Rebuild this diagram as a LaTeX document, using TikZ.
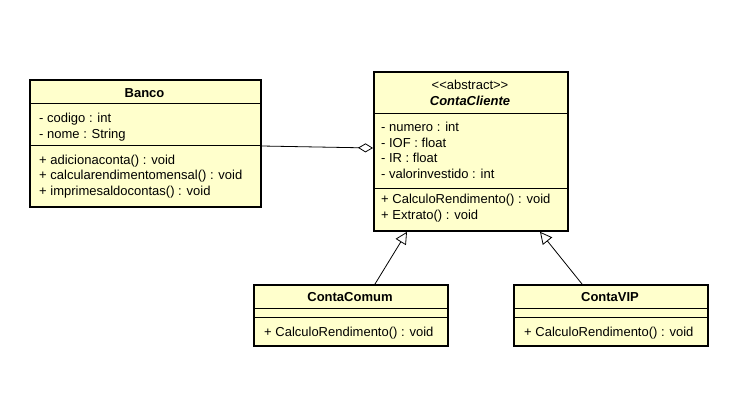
\documentclass[tikz,border=0pt]{standalone}
\usepackage{fontspec}
\newfontfamily\umlfont{Liberation Sans}
\usetikzlibrary{arrows.meta}
\definecolor{umlfill}{RGB}{255,255,204}
\begin{document}
\begin{tikzpicture}[x=1pt,y=-1pt,
  cls/.style={draw=black, line width=1.8pt, fill=umlfill, inner sep=0pt, anchor=north west},
  sepline/.style={line width=0.9pt},
  txt/.style={anchor=base west, inner sep=0pt, font=\umlfont\fontsize{13}{15}\selectfont},
  ttl/.style={anchor=base, inner sep=0pt, font=\umlfont\fontsize{13}{15}\selectfont\bfseries},
  ttlit/.style={anchor=base, inner sep=0pt, font=\umlfont\fontsize{13}{15}\selectfont\bfseries\itshape},
  ster/.style={anchor=base, inner sep=0pt, font=\umlfont\fontsize{13}{15}\selectfont},
  aggr/.style={line width=0.8pt, -{Diamond[open, fill=white, length=15pt, width=9pt, line width=0.8pt]}},
  gen/.style={line width=0.8pt, -{Triangle[open, fill=white, length=12pt, width=12pt, line width=0.8pt]}}]
\fill[white] (0,0) rectangle (736,413);
\path[use as bounding box] (0,0) rectangle (736,413);

% Banco
\node[cls, minimum width=231pt, minimum height=127pt] (banco) at (29,79) {};
\draw[sepline] (banco.west |- 0,103) -- (banco.east |- 0,103);
\draw[sepline] (banco.west |- 0,145) -- (banco.east |- 0,145);
\node[ttl] (bancoT) at (144.5,97.5) {Banco};
\node[txt] (b1) at (39,122.5) {- codigo : int};
\node[txt] (b2) at (39,138) {- nome : String};
\node[txt] (b3) at (39,164) {+ adicionaconta() : void};
\node[txt] (b4) at (39,179.5) {+ calcularendimentomensal() : void};
\node[txt] (b5) at (39,195) {+ imprimesaldocontas() : void};

% ContaCliente
\node[cls, minimum width=194pt, minimum height=159pt] (cliente) at (373,71) {};
\draw[sepline] (cliente.west |- 0,113) -- (cliente.east |- 0,113);
\draw[sepline] (cliente.west |- 0,188) -- (cliente.east |- 0,188);
\node[ster] (cS) at (470,89.5) {<<abstract>>};
\node[ttlit] (cT) at (470,105.5) {ContaCliente};
\node[txt] (c1) at (381,131.5) {- numero : int};
\node[txt] (c2) at (381,147) {- IOF : float};
\node[txt] (c3) at (381,162.5) {- IR : float};
\node[txt] (c4) at (381,178) {- valorinvestido : int};
\node[txt] (c5) at (381,203.5) {+ CalculoRendimento() : void};
\node[txt] (c6) at (381,219) {+ Extrato() : void};

% ContaComum
\node[cls, minimum width=194pt, minimum height=61pt] (comum) at (253,284) {};
\draw[sepline] (comum.west |- 0,308) -- (comum.east |- 0,308);
\draw[sepline] (comum.west |- 0,317) -- (comum.east |- 0,317);
\node[ttl] (mT) at (350,301.5) {ContaComum};
\node[txt] (m1) at (264,336.5) {+ CalculoRendimento() : void};

% ContaVIP
\node[cls, minimum width=194pt, minimum height=61pt] (vip) at (513,284) {};
\draw[sepline] (vip.west |- 0,308) -- (vip.east |- 0,308);
\draw[sepline] (vip.west |- 0,317) -- (vip.east |- 0,317);
\node[ttl] (vT) at (610,301.5) {ContaVIP};
\node[txt] (v1) at (524,336.5) {+ CalculoRendimento() : void};

% connectors
\draw[aggr] (banco.east |- 0,146) -- (cliente.west |- 0,148);
\draw[gen] (comum.north -| 375,0) -- (cliente.south -| 407,0);
\draw[gen] (vip.north -| 582,0) -- (cliente.south -| 540,0);
\end{tikzpicture}
\end{document}
